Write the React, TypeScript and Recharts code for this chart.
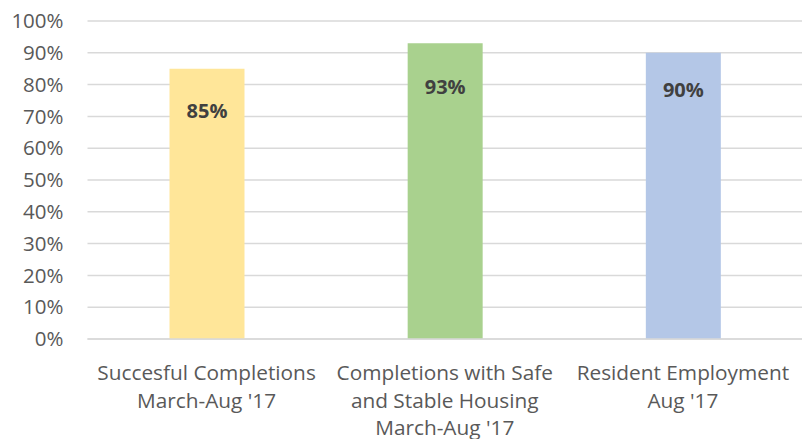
import React from 'react';
import { BarChart, Bar, XAxis, YAxis, CartesianGrid, Cell, LabelList } from 'recharts';

const categories = ['Succesful Completions March-Aug \'17', 'Completions with Safe and Stable Housing March-Aug \'17', 'Resident Employment Aug \'17'];
const categoryLines = [
  ['Succesful Completions', "March-Aug '17"],
  ['Completions with Safe', 'and Stable Housing', "March-Aug '17"],
  ['Resident Employment', "Aug '17"],
];
const values = [85, 93, 90];
const barColors = ['#FFE699', '#A9D18E', '#B4C7E7'];
const yTicks = [0, 10, 20, 30, 40, 50, 60, 70, 80, 90, 100];
const labelDy = [42, 43, 37];

const data = categories.map((c, i) => ({ name: c, idx: i, value: values[i] }));

const FONT = '"Open Sans", sans-serif';

const XTick = (props: any) => {
  const { x, y, payload } = props;
  const lines = categoryLines[payload.index] || [String(payload.value)];
  return (
    <text x={x} y={y} textAnchor="middle" fill="#595959" fontFamily={FONT} fontSize={20.8}>
      {lines.map((l: string, i: number) => (
        <tspan key={i} x={x} y={y + 33 + i * 27.5}>{l}</tspan>
      ))}
    </text>
  );
};

const BarLabel = (props: any) => {
  const { x, y, width, value, index } = props;
  return (
    <text x={x + width / 2} y={y + labelDy[index]} textAnchor="middle" dominantBaseline="central"
      fill="#404040" fontFamily={FONT} fontWeight="bold" fontSize={20}>
      {value}%
    </text>
  );
};

export default function App() {
  return (
    <div style={{ position: 'absolute', left: 0, top: 0, width: 807, height: 439, background: '#fff' }}>
      <BarChart width={807} height={439} data={data} margin={{ top: 21, right: 5, left: 0, bottom: 99 }} barSize={75}>
        <CartesianGrid vertical={false} stroke="#D9D9D9" strokeWidth={1.5} />
        <XAxis dataKey="name" axisLine={{ stroke: '#D9D9D9', strokeWidth: 1.5 }} tickLine={false} tick={<XTick />} interval={0} height={1} />
        <YAxis domain={[0, 100]} ticks={yTicks} width={87.5} axisLine={false} tickLine={false} tickSize={0} tickMargin={24}
          tickFormatter={(v: number) => `${v}%`}
          tick={{ fill: '#595959', fontFamily: FONT, fontSize: 20.5 }} />
        <Bar dataKey="value" isAnimationActive={false}>
          {data.map((d, i) => <Cell key={i} fill={barColors[i]} />)}
          <LabelList dataKey="value" content={<BarLabel />} />
        </Bar>
      </BarChart>
    </div>
  );
}
